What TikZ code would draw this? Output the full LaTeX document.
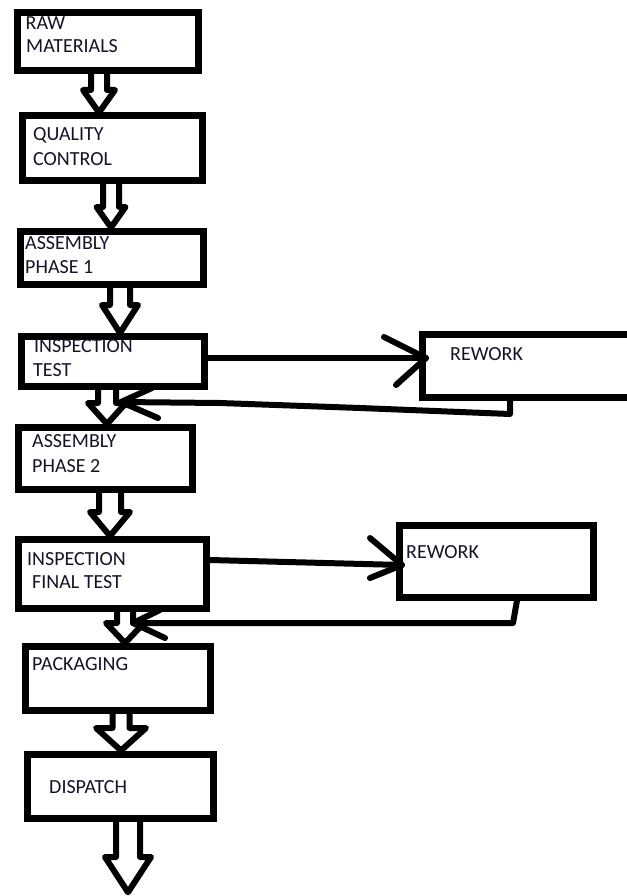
\documentclass[tikz,border=0pt]{standalone}
\usepackage{fontspec}
\setmainfont{Carlito}
\definecolor{txtc}{RGB}{20,20,40}
\newcommand{\blockarr}[6]{% from, to, cx, s, h, yh
  \draw[blk] (#3-#4,0 |- #1.south) -- (#3-#4,#6) -- (#3-#5,#6) -- (#3,0 |- #2.north)
     -- (#3+#5,#6) -- (#3+#4,#6) -- (#3+#4,0 |- #1.south);}
\begin{document}
\begin{tikzpicture}[x=1pt,y=-1pt,
  box/.style={draw=black,line width=7pt,rectangle,inner sep=0pt,anchor=north west},
  blk/.style={draw=black,line width=6pt,line join=round,line cap=round},
  conn/.style={draw=black,line width=6pt,line join=round,line cap=round},
  lbl/.style={inner sep=0pt,anchor=base west,text=txtc,font=\fontsize{20}{23}\selectfont}]
\useasboundingbox[fill=white] (0,0) rectangle (626,896);
% boxes
\node[box,minimum width=181pt,minimum height=58pt] (raw) at (14,9) {};
\node[box,minimum width=180pt,minimum height=65pt] (qc) at (18.5,112.5) {};
\node[box,minimum width=183pt,minimum height=53pt] (ap1) at (16.5,227.5) {};
\node[box,minimum width=183.5pt,minimum height=49.5pt] (insp) at (17.5,333) {};
\node[box,minimum width=174pt,minimum height=62pt] (ap2) at (14.5,424) {};
\node[box,minimum width=188.5pt,minimum height=69pt] (insp2) at (14.5,536) {};
\node[box,minimum width=185pt,minimum height=63.5pt] (pack) at (21.5,643) {};
\node[box,minimum width=186pt,minimum height=64pt] (disp) at (23.5,750.5) {};
\node[box,minimum width=241pt,minimum height=63pt] (rw1) at (419,331) {};
\node[box,minimum width=193.5pt,minimum height=72pt] (rw2) at (396,521.5) {};
% labels
\node[lbl] (t1a) at (25.5,30) {RAW};
\node[lbl] (t1b) at (26,53) {MATERIALS};
\node[lbl] (t2a) at (33,141) {QUALITY};
\node[lbl] (t2b) at (33,166) {CONTROL};
\node[lbl] (t3a) at (25,249) {ASSEMBLY};
\node[lbl] (t3b) at (25,273) {PHASE 1};
\node[lbl] (t4a) at (34,352) {INSPECTION};
\node[lbl] (t4b) at (33,376) {TEST};
\node[lbl] (t5a) at (32,447) {ASSEMBLY};
\node[lbl] (t5b) at (32,472) {PHASE 2};
\node[lbl] (t6a) at (27,565) {INSPECTION};
\node[lbl] (t6b) at (32,588) {FINAL TEST};
\node[lbl] (t7) at (32,670) {PACKAGING};
\node[lbl] (t8) at (49,793) {DISPATCH};
\node[lbl] (tr1) at (450,360) {REWORK};
\node[lbl] (tr2) at (406,558) {REWORK};
% block arrows
\coordinate (endpt) at (128,893);
\node[inner sep=0pt] (endn) at (endpt) {};
\blockarr{raw}{qc}{99}{8}{16}{90}
\blockarr{qc}{ap1}{111}{8}{14.5}{207}
\blockarr{ap1}{insp}{120}{10}{18}{305}
\blockarr{insp}{ap2}{107}{9}{19}{403}
\blockarr{ap2}{insp2}{110}{11}{20}{512}
\blockarr{insp2}{pack}{125}{8}{19}{623}
\blockarr{pack}{disp}{121}{8.5}{25}{728}
\blockarr{disp}{endn}{128}{12}{23}{857}
% rework connectors
\coordinate (r1tip) at (426,358);
\draw[conn] (insp.east |- r1tip) -- (r1tip);
\draw[conn] (384,337) -- (r1tip) -- (396,385);
\coordinate (b1tip) at (121,402);
\draw[conn] (510,0 |- rw1.south) -- (510,414) -- (360,408) -- (220,403) -- (b1tip);
\draw[conn] (152,388) -- (b1tip) -- (158,418);
\coordinate (r2tip) at (402,565);
\draw[conn] (insp2.east |- 0,560) -- (r2tip);
\draw[conn] (370,538) -- (r2tip) -- (370,578);
\coordinate (b2tip) at (133,623);
\draw[conn] (517,0 |- rw2.south) -- (513,623) -- (b2tip);
\draw[conn] (160,610) -- (b2tip) -- (165,638);
\end{tikzpicture}
\end{document}
